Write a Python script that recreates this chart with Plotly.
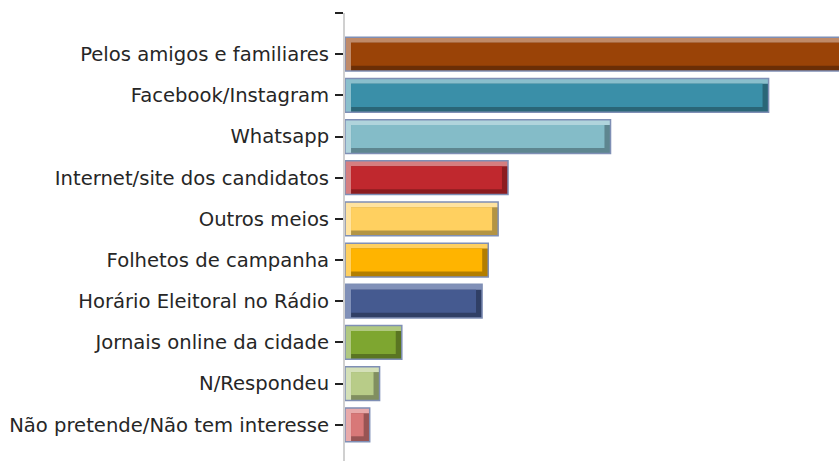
import plotly.graph_objects as go

categories = ["Pelos amigos e familiares", "Facebook/Instagram", "Whatsapp",
              "Internet/site dos candidatos", "Outros meios", "Folhetos de campanha",
              "Horário Eleitoral no Rádio", "Jornais online da cidade", "N/Respondeu",
              "Não pretende/Não tem interesse"]
values = [45.0, 34.3, 21.5, 13.2, 12.4, 11.6, 11.1, 4.6, 2.8, 2.0]
face_colors = ["#9a4307", "#3a8fa8", "#84bcc8", "#c0282e", "#ffd060",
               "#ffb400", "#455a90", "#7ea630", "#b8cc88", "#d87878"]
light_colors = ["#c08a68", "#8abfcc", "#b0d4dc", "#d67e80", "#ffe3a0",
                "#ffd060", "#8090b8", "#b0c880", "#d4e0b8", "#e8aaaa"]
dark_colors = ["#6b2e06", "#2a6677", "#5e8690", "#8c1c20", "#b39444",
               "#b37e00", "#303f65", "#5a7522", "#818f60", "#985454"]

X_MAX = 40.0
n = len(categories)
pos = [n - 1 - i for i in range(n)]
W = 0.82
T = 0.13
EPS = 0.49

fig = go.Figure()
# light (top/left bevel)
fig.add_trace(go.Bar(y=pos, x=values, orientation="h", width=W,
                     marker=dict(color=light_colors, line=dict(width=0)), hoverinfo="skip"))
# dark (bottom/right bevel)
fig.add_trace(go.Bar(y=pos, x=[v - EPS for v in values], base=EPS, orientation="h",
                     width=W - T, offset=-W / 2,
                     marker=dict(color=dark_colors, line=dict(width=0)), hoverinfo="skip"))
# face
fig.add_trace(go.Bar(y=pos, x=[v - 2 * EPS for v in values], base=EPS, orientation="h",
                     width=W - 2 * T, offset=-W / 2 + T,
                     marker=dict(color=face_colors, line=dict(width=0)),
                     customdata=categories, hovertemplate="%{customdata}<extra></extra>"))
# border
fig.add_trace(go.Bar(y=pos, x=values, orientation="h", width=W,
                     marker=dict(color="rgba(0,0,0,0)", line=dict(width=1.5, color="#7f8fb5")),
                     hoverinfo="skip"))

fig.update_layout(
    width=839, height=461,
    margin=dict(l=345, r=0, t=13, b=0),
    barmode="overlay",
    showlegend=False,
    plot_bgcolor="white", paper_bgcolor="white",
    font=dict(family="DejaVu Sans", size=19.6, color="#262626"),
    xaxis=dict(range=[0, X_MAX], visible=False, showgrid=False, zeroline=False),
    yaxis=dict(range=[-0.88, n], tickvals=[n] + pos, ticktext=[""] + categories,
               showline=True, linecolor="#d0d0d0", linewidth=2,
               ticks="outside", ticklen=8, tickwidth=2, tickcolor="#222",
               showgrid=False, zeroline=False, automargin=False,
               ticklabelstandoff=2),
)
fig.write_html("out.html", config={"displayModeBar": False},
               post_script="document.body.style.margin='0';document.body.style.overflow='hidden';")
